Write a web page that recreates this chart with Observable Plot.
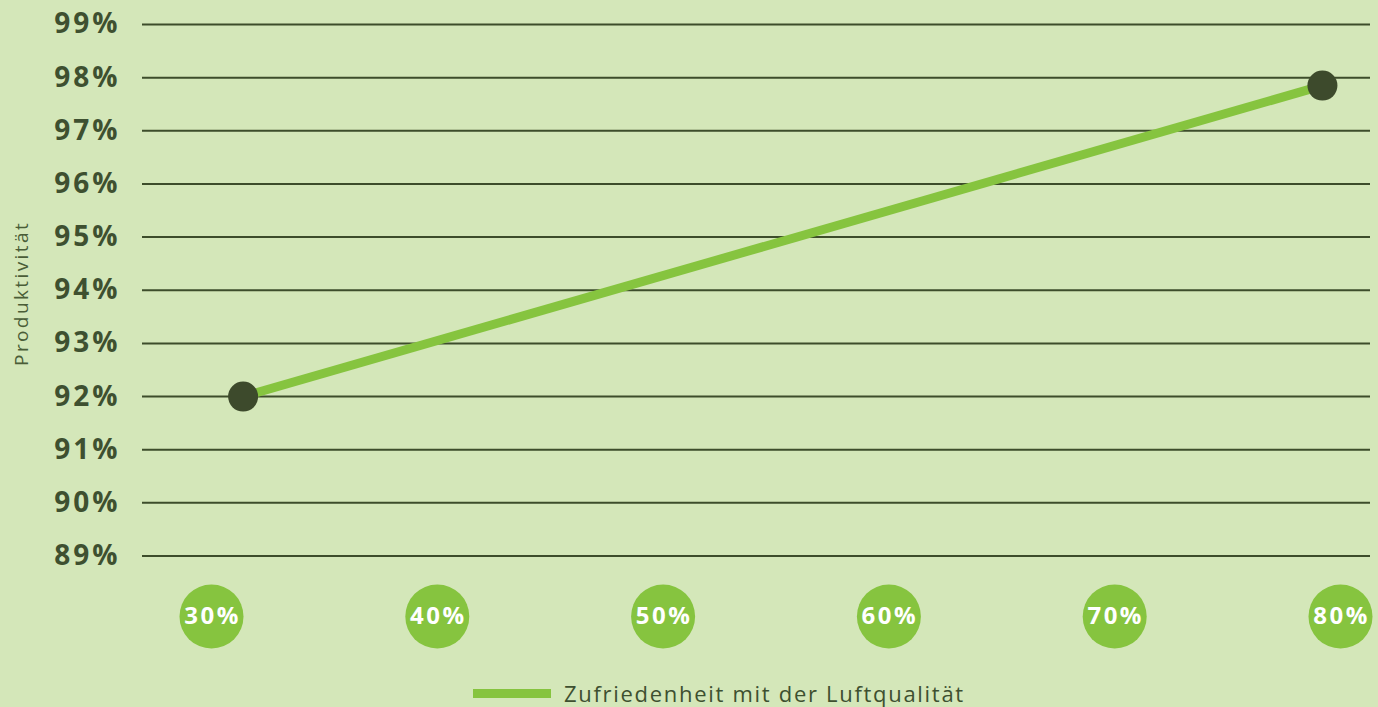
<!DOCTYPE html>
<html>
<head>
<meta charset="utf-8">
<script src="https://cdn.jsdelivr.net/npm/d3@7"></script>
<script src="https://cdn.jsdelivr.net/npm/@observablehq/plot@0.6"></script>
<style>
  html, body { margin: 0; padding: 0; background: #d4e7b9; overflow: hidden; }
  #chart svg { display: block; }
  #legend { display: flex; align-items: center; margin-left: 473px; margin-top: 16px; height: 34px;
    font-family: "Open Sans", "Noto Sans", sans-serif; font-size: 22px; letter-spacing: 1.7px; color: #3e5030; }
  #legend .sw { width: 78px; height: 9px; background: #86c43f; margin-right: 13px; }
</style>
</head>
<body>
<div id="chart"></div>
<div id="legend"><span class="sw"></span><span>Zufriedenheit mit der Luftqualität</span></div>
<script>
const seriesName = "Zufriedenheit mit der Luftqualität";
const satisfaction = [31.4, 79.2];     // x position of the two points (%)
const productivity = [92.0, 97.85];    // y values (%)
const xTicks = [30, 40, 50, 60, 70, 80];
const yTicks = [89, 90, 91, 92, 93, 94, 95, 96, 97, 98, 99];
const yLabel = "Produktivität";

const data = satisfaction.map((x, i) => ({x, y: productivity[i]}));
const dark = "#3e5030";
const green = "#86c43f";

const plot = Plot.plot({
  width: 1378,
  height: 660,
  marginLeft: 142,
  marginRight: 8,
  marginTop: 24,
  marginBottom: 44,
  style: {background: "transparent", fontFamily: "'Open Sans', 'Noto Sans', sans-serif"},
  x: {domain: [30, 80], range: [211, 1340]},
  y: {domain: [89, 99], range: [555.5, 24]},
  marks: [
    Plot.ruleY(yTicks, {stroke: "#3d4d2b", strokeWidth: 2}),
    Plot.axisY({ticks: yTicks, tickSize: 0, tickPadding: 22, tickFormat: d => d + "%",
      fontSize: 28, fontWeight: "bold", fill: dark, label: null}),
    Plot.text([yLabel], {frameAnchor: "left", y: () => 93.94, dx: -121, rotate: -90,
      textAnchor: "middle", lineAnchor: "middle",
      fontSize: 19, fill: "#4a5d37", fontWeight: 400}),
    Plot.axisX({ticks: [], label: null, tickSize: 0}),
    Plot.dot(xTicks, {x: d => d, frameAnchor: "bottom", r: 32, fill: green, stroke: null}),
    Plot.text(xTicks, {x: d => d, frameAnchor: "bottom", lineAnchor: "middle", text: d => d + "%", fill: "white",
      fontSize: 24, fontWeight: "bold", dx: 1}),
    Plot.line(data, {x: "x", y: "y", stroke: green, strokeWidth: 9, strokeLinecap: "butt"}),
    Plot.dot(data, {x: "x", y: "y", r: 15, fill: "#3d4a2c", stroke: null})
  ]
});
const sel = d3.select(plot);
sel.selectAll('g[aria-label="y-axis tick label"] text').style("letter-spacing", "3px");
const textGroups = sel.selectAll('g[aria-label="text"]').nodes();
d3.select(textGroups[0]).selectAll("text").style("letter-spacing", "2.4px");
d3.select(textGroups[1]).selectAll("text").style("letter-spacing", "2.5px");
document.getElementById("chart").appendChild(plot);
</script>
</body>
</html>
